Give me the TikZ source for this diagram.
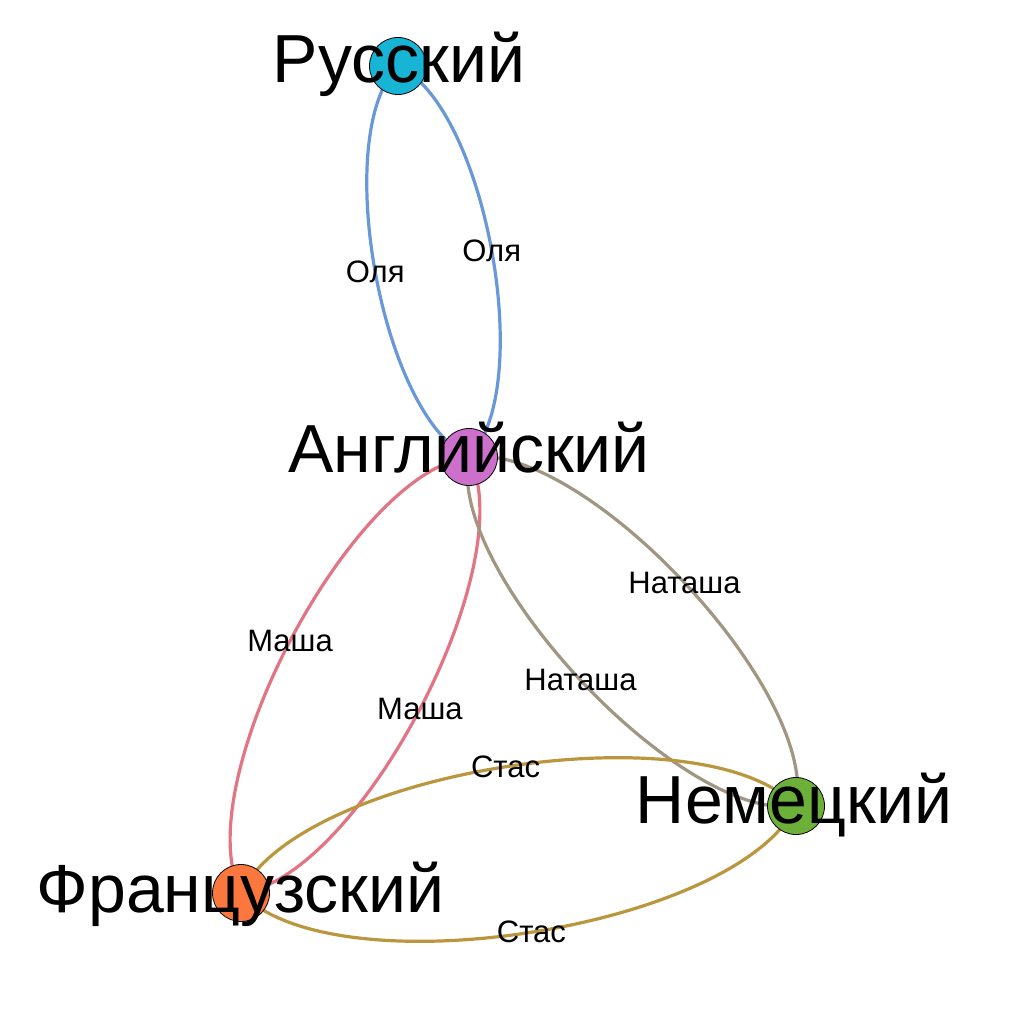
\documentclass[tikz,border=0pt]{standalone}
\usepackage{fontspec}
\setmainfont{Liberation Sans}
\definecolor{cRu}{RGB}{23,180,214}
\definecolor{cEn}{RGB}{204,112,204}
\definecolor{cFr}{RGB}{250,120,62}
\definecolor{cDe}{RGB}{108,176,58}
\definecolor{eBlue}{RGB}{104,152,216}
\definecolor{ePink}{RGB}{226,116,132}
\definecolor{eGray}{RGB}{160,150,130}
\definecolor{eGold}{RGB}{186,150,62}
\begin{document}
\begin{tikzpicture}[x=1pt,y=-1pt,
  vert/.style={circle,draw=black,line width=0.8pt,minimum size=57pt,inner sep=0pt},
  big/.style={font=\fontsize{68}{68}\selectfont,anchor=base,inner sep=0pt},
  elab/.style={font=\fontsize{31}{31}\selectfont,inner sep=0pt,black},
  edge/.style={line width=3.2pt,looseness=0.62}]
\useasboundingbox[fill=white] (0,0) rectangle (1024,1024);
\coordinate (ru) at (398,66);
\coordinate (en) at (469,457);
\coordinate (fr) at (241,893);
\coordinate (de) at (796,806);
% edges
\draw[edge,eBlue] (ru) to[bend left=55] node[elab]{Оля} (en);
\draw[edge,eBlue] (ru) to[bend right=55] node[elab]{Оля} (en);
\draw[edge,ePink] (en) to[bend left=55] node[elab]{Маша} (fr);
\draw[edge,ePink] (en) to[bend right=55] node[elab]{Маша} (fr);
\draw[edge,eGray] (en) to[bend left=55] node[elab]{Наташа} (de);
\draw[edge,eGray] (en) to[bend right=55] node[elab]{Наташа} (de);
\draw[edge,eGold] (fr) to[bend left=55] node[elab]{Стас} (de);
\draw[edge,eGold] (fr) to[bend right=55] node[elab]{Стас} (de);
% vertices
\node[vert,fill=cRu] (nru) at (ru) {};
\node[vert,fill=cEn] (nen) at (en) {};
\node[vert,fill=cFr] (nfr) at (fr) {};
\node[vert,fill=cDe] (nde) at (de) {};
% vertex labels
\node[big] (lru) at (399,83) {Русский};
\node[big] (len) at (469,472) {Английский};
\node[big] (lfr) at (240.5,912) {Французский};
\node[big] (lde) at (794,823) {Немецкий};
\end{tikzpicture}
\end{document}
